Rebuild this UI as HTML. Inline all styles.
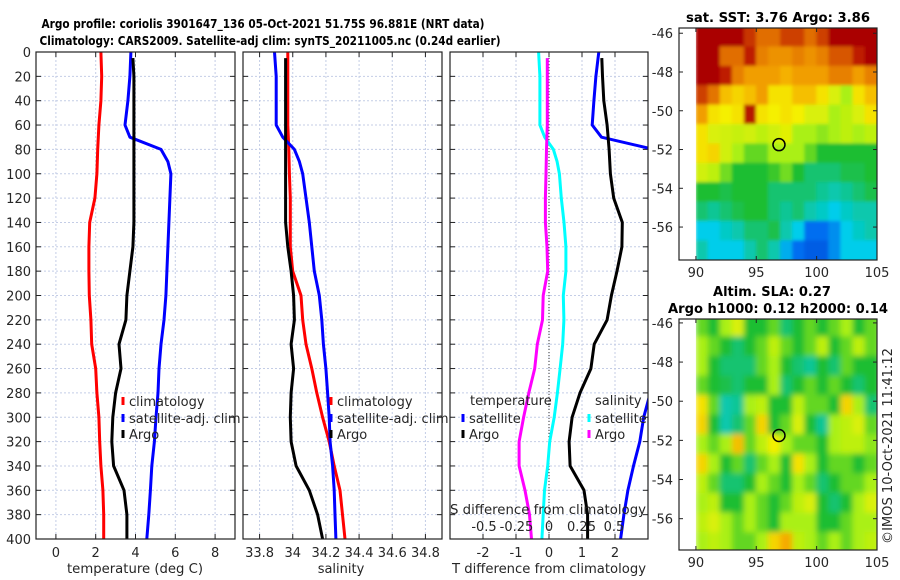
<!DOCTYPE html>
<html><head><meta charset="utf-8"><style>
body{margin:0;background:#fff;}
svg{display:block;font-family:"DejaVu Sans","Liberation Sans",sans-serif;}
</style></head><body>
<svg id="s" width="900" height="580" viewBox="0 0 900 580"></svg>
<script>
// ---- profile data (depth in dbar) ----
const depths=[0,20,40,60,80,100,120,140,160,180,200,220,240,260,280,300,320,340,360,380,400];
const tClim=[2.26,2.3,2.26,2.16,2.1,2.06,1.96,1.7,1.66,1.66,1.68,1.76,1.8,2.0,2.06,2.16,2.2,2.26,2.36,2.4,2.4];
const satDepths=[0,20,40,60,70,80,90,100,120,140,160,180,200,220,240,260,280,300,320,340,360,380,400];
const tSat=[3.77,3.72,3.62,3.47,3.72,5.28,5.63,5.78,5.73,5.68,5.63,5.58,5.53,5.43,5.28,5.18,5.13,5.03,4.95,4.82,4.75,4.67,4.57];
const argoDepths=[5,20,40,60,80,100,120,140,160,180,200,220,240,260,280,300,320,340,360,380,400];
const tArgo=[3.87,3.92,3.92,3.92,3.92,3.92,3.92,3.92,3.87,3.72,3.57,3.52,3.17,3.27,3.0,2.86,2.81,2.9,3.42,3.57,3.57];
const sClim=[33.97,33.97,33.97,33.97,33.976,33.98,33.985,33.985,33.985,34.0,34.05,34.06,34.08,34.115,34.145,34.18,34.22,34.25,34.285,34.3,34.315];
const sSat=[33.89,33.9,33.9,33.9,33.94,34.01,34.04,34.06,34.08,34.1,34.115,34.13,34.16,34.175,34.185,34.2,34.21,34.22,34.225,34.24,34.25,34.255,34.26];
const sArgo=[33.957,33.957,33.957,33.957,33.957,33.957,33.957,33.957,33.97,33.99,34.005,34.01,33.99,34.005,33.99,33.985,33.99,34.02,34.1,34.15,34.18];
const depthTicks=[0,20,40,60,80,100,120,140,160,180,200,220,240,260,280,300,320,340,360,380,400];
const tTicks=[0,2,4,6,8];
const sTicks=[33.8,34,34.2,34.4,34.6,34.8];
const sTickLabels=["33.8","34","34.2","34.4","34.6","34.8"];
const dTTicks=[-2,-1,0,1,2];
const dSTicks=[-0.5,-0.25,0,0.25,0.5];
const dSTickLabels=["-0.5","-0.25","0","0.25","0.5"];
// ---- map data: rows from north (-46) to south, cols 90..105 lon ----
const sstGrid=[
[1,1,1,1,.93,.88,.88,.92,.92,.88,.92,1,1,1,1],
[1,1,.88,.88,.95,.85,.82,.82,.85,.82,.85,.9,.9,.95,1],
[1,1,.95,.85,.8,.8,.8,.77,.8,.8,.8,.85,.85,.8,.85],
[.92,.87,.75,.72,.75,.8,.7,.7,.75,.75,.7,.65,.6,.7,.75],
[.8,.7,.68,.7,.97,.7,.68,.7,.68,.65,.65,.6,.62,.65,.7],
[.7,.65,.64,.63,.64,.62,.64,.66,.6,.6,.58,.6,.62,.6,.62],
[.7,.72,.64,.6,.55,.55,.6,.6,.6,.55,.5,.5,.5,.5,.5],
[.64,.62,.56,.5,.5,.5,.52,.56,.5,.45,.45,.45,.48,.48,.5],
[.5,.5,.48,.5,.5,.5,.45,.45,.45,.45,.42,.4,.42,.45,.48],
[.45,.42,.45,.48,.5,.5,.45,.42,.45,.4,.38,.35,.38,.4,.4],
[.35,.35,.38,.4,.45,.45,.48,.4,.35,.2,.2,.25,.35,.38,.4],
[.4,.35,.35,.35,.4,.45,.4,.3,.2,.15,.15,.25,.35,.35,.35]];
const slaGrid=[
[.55,.5,.6,.65,.5,.5,.55,.45,.5,.55,.5,.55,.6,.5,.55],
[.6,.55,.5,.45,.5,.55,.62,.55,.5,.55,.62,.5,.55,.62,.55],
[.6,.5,.45,.45,.45,.55,.6,.5,.45,.42,.5,.45,.55,.5,.5],
[.55,.5,.48,.45,.5,.5,.6,.45,.5,.55,.5,.55,.5,.45,.5],
[.7,.55,.4,.42,.6,.62,.5,.5,.62,.55,.55,.5,.72,.6,.45],
[.72,.5,.4,.45,.55,.72,.5,.55,.65,.5,.42,.6,.62,.65,.55],
[.6,.55,.6,.75,.55,.62,.68,.6,.55,.55,.5,.6,.62,.62,.58],
[.72,.6,.5,.55,.45,.55,.6,.5,.7,.6,.5,.55,.55,.5,.55],
[.62,.55,.45,.45,.5,.6,.55,.5,.6,.55,.45,.5,.55,.55,.6],
[.6,.62,.5,.5,.6,.55,.5,.55,.62,.65,.5,.45,.5,.6,.65],
[.62,.65,.6,.55,.6,.55,.5,.6,.6,.6,.5,.5,.55,.6,.6],
[.6,.62,.6,.55,.55,.6,.72,.78,.62,.6,.55,.6,.55,.6,.62]];
const lonTicks=[90,95,100,105];
const latTicks=[-46,-48,-50,-52,-54,-56];
const argoLon=96.881, argoLat=-51.75;

const NS="http://www.w3.org/2000/svg";
const svg=document.getElementById('s');
function el(tag,attrs,parent){const e=document.createElementNS(NS,tag);for(const k in attrs)e.setAttribute(k,attrs[k]);(parent||svg).appendChild(e);return e;}
function txt(x,y,s,attrs,parent){const e=el('text',Object.assign({x:x,y:y,'font-size':12,fill:'#262626'},attrs),parent);e.textContent=s;return e;}

const PY0=52,PY1=539;
const yD=d=>PY0+d*(PY1-PY0)/400;

function panel(x0,x1,xmin,xmax,name){
  const xs=v=>x0+(v-xmin)*(x1-x0)/(xmax-xmin);
  const g=el('g',{});  
  return {xs,g,x0,x1};
}
function grid(p,xt,showY){
  depthTicks.forEach(d=>{
    const l=el('line',{x1:p.x0,x2:p.x1,y1:yD(d),y2:yD(d),stroke:'#c4cde6','stroke-width':1,'stroke-dasharray':'2,2'},p.g);
    
    el('line',{x1:p.x0,x2:p.x0+5,y1:yD(d),y2:yD(d),stroke:'#222'},p.g);
    el('line',{x1:p.x1-5,x2:p.x1,y1:yD(d),y2:yD(d),stroke:'#222'},p.g);
    if(showY){const t=txt(p.x0-5,yD(d)+5,String(d),{'text-anchor':'end','font-size':13},p.g);}
  });
  xt.forEach(v=>{
    const x=p.xs(v);
    const l=el('line',{x1:x,x2:x,y1:PY0,y2:PY1,stroke:'#c4cde6','stroke-dasharray':'2,2'},p.g);
    
    el('line',{x1:x,x2:x,y1:PY0,y2:PY0+5,stroke:'#222'},p.g);
    el('line',{x1:x,x2:x,y1:PY1-5,y2:PY1,stroke:'#222'},p.g);
  });
}
function frame(p){const r=el('rect',{x:p.x0,y:PY0,width:p.x1-p.x0,height:PY1-PY0,fill:'none',stroke:'#222','stroke-width':1.2},p.g);}
function line(p,xvals,dvals,color,name,clip){
  const pts=xvals.map((v,i)=>p.xs(v).toFixed(1)+','+yD(dvals[i]).toFixed(1)).join(' ');
  const l=el('polyline',{points:pts,fill:'none',stroke:color,'stroke-width':3,'stroke-linejoin':'round'},p.g);
  if(clip)l.setAttribute('clip-path','url(#'+clip+')');
  
}
function legendEntry(p,x,y,color,label,name){
  const g=el('g',{},p.g);
  el('line',{x1:x,x2:x,y1:y-9,y2:y-1,stroke:color,'stroke-width':3},g);
  txt(x+6,y,label,{'font-size':13},g);
}
function interp(ds,vs,d){for(let i=0;i<ds.length-1;i++){if(d>=ds[i]&&d<=ds[i+1]){const f=(d-ds[i])/(ds[i+1]-ds[i]);return vs[i]+f*(vs[i+1]-vs[i]);}}return d<ds[0]?vs[0]:vs[vs.length-1];}

// Panel 1 temperature
const p1=panel(36,235,-1,9,'temperature-panel');
grid(p1,tTicks,true);
line(p1,tClim,depths,'#ff0000','temp-climatology-line');
line(p1,tSat,satDepths,'#0000ff','temp-satellite-line');
line(p1,tArgo,argoDepths,'#000000','temp-argo-line');
frame(p1);
tTicks.forEach(v=>{const t=txt(p1.xs(v),557,String(v),{'text-anchor':'middle','font-size':13},p1.g);});
{const t=txt(135,573,'temperature (deg C)',{'text-anchor':'middle','font-size':13,textLength:136,lengthAdjust:'spacingAndGlyphs'});}
legendEntry(p1,123,406,'#ff0000','climatology','legend-climatology');
legendEntry(p1,123,423,'#0000ff','satellite-adj. clim','legend-satellite');
legendEntry(p1,123,439,'#000000','Argo','legend-argo');

// Panel 2 salinity
const p2=panel(243,442,33.7,34.9,'salinity-panel');
grid(p2,sTicks,false);
line(p2,sClim,depths,'#ff0000','sal-climatology-line');
line(p2,sSat,satDepths,'#0000ff','sal-satellite-line');
line(p2,sArgo,argoDepths,'#000000','sal-argo-line');
frame(p2);
sTicks.forEach((v,i)=>{const t=txt(p2.xs(v),557,sTickLabels[i],{'text-anchor':'middle','font-size':13},p2.g);});
{const t=txt(341,573,'salinity',{'text-anchor':'middle','font-size':13});}
legendEntry(p2,331,406,'#ff0000','climatology','legend-climatology-2');
legendEntry(p2,331,423,'#0000ff','satellite-adj. clim','legend-satellite-2');
legendEntry(p2,331,439,'#000000','Argo','legend-argo-2');

// Panel 3 differences
const defs=el('defs',{});
const cp=el('clipPath',{id:'c3'},defs);el('rect',{x:450,y:PY0,width:198,height:PY1-PY0},cp);
const p3=panel(450,648,-3,3,'difference-panel');
const SF=33/130; // S units per T unit on shared axis
grid(p3,dTTicks,false);
el('line',{x1:p3.xs(0),x2:p3.xs(0),y1:PY0,y2:PY1,stroke:'#333','stroke-dasharray':'1,2'},p3.g);
const dTSat=satDepths.map((d,i)=>tSat[i]-interp(depths,tClim,d));
const dTArgo=argoDepths.map((d,i)=>tArgo[i]-interp(depths,tClim,d));
const dSSat=satDepths.map((d,i)=>(sSat[i]-interp(depths,sClim,d))/SF);
const dSArgo=argoDepths.map((d,i)=>(sArgo[i]-interp(depths,sClim,d))/SF);
line(p3,dSSat,satDepths,'#00ffff','sdiff-satellite-line','c3');
line(p3,dSArgo,argoDepths,'#ff00ff','sdiff-argo-line','c3');
line(p3,dTSat,satDepths,'#0000ff','tdiff-satellite-line','c3');
line(p3,dTArgo,argoDepths,'#000000','tdiff-argo-line','c3');
frame(p3);
dTTicks.forEach(v=>{const t=txt(p3.xs(v),557,String(v),{'text-anchor':'middle','font-size':13},p3.g);});
dSTicks.forEach((v,i)=>{const t=txt(p3.xs(v/SF),531,dSTickLabels[i],{'text-anchor':'middle','font-size':13},p3.g);});
{const t=txt(450,514,'S difference from climatology',{'font-size':13,textLength:196,lengthAdjust:'spacingAndGlyphs'});}
{const t=txt(452,573,'T difference from climatology',{'font-size':13,textLength:194,lengthAdjust:'spacingAndGlyphs'});}
{const t=txt(470,405,'temperature',{'font-size':13});}
{const t=txt(595,405,'salinity',{'font-size':13});}
legendEntry(p3,463,423,'#0000ff','satellite','legend-t-satellite');
legendEntry(p3,463,439,'#000000','Argo','legend-t-argo');
legendEntry(p3,589,423,'#00ffff','satellite','legend-s-satellite');
legendEntry(p3,589,439,'#ff00ff','Argo','legend-s-argo');

// Titles
{const t=txt(263,28,'Argo profile: coriolis 3901647_136 05-Oct-2021 51.75S 96.881E (NRT data)',{'font-size':12,'font-weight':'bold','text-anchor':'middle',fill:'#000',textLength:443,lengthAdjust:'spacingAndGlyphs'});}
{const t=txt(270,45,'Climatology: CARS2009. Satellite-adj clim: synTS_20211005.nc (0.24d earlier)',{'font-size':12,'font-weight':'bold','text-anchor':'middle',fill:'#000',textLength:461,lengthAdjust:'spacingAndGlyphs'});}

// Colormap
const stops=[[0,[0,40,190]],[0.2,[0,110,240]],[0.35,[0,205,235]],[0.5,[30,190,50]],[0.6,[170,240,20]],[0.68,[245,240,0]],[0.78,[245,170,0]],[0.88,[225,110,0]],[0.95,[190,30,0]],[1,[170,0,0]]];
function cmap(v){for(let i=0;i<stops.length-1;i++){const a=stops[i],b=stops[i+1];if(v<=b[0]){const f=Math.max(0,(v-a[0])/(b[0]-a[0]));const c=a[1].map((x,k)=>Math.round(x+f*(b[1][k]-x)));return 'rgb('+c.join(',')+')';}}return 'rgb(170,0,0)';}

function map(fy0,fy1,latTop,latBot,gridData,name,filt,cid){
  const fx0=679,fx1=877;
  const lonL=88.6,lonR=105;
  const xs=lon=>fx0+(lon-lonL)*(fx1-fx0)/(lonR-lonL);
  const ys=lat=>fy0+(latTop-lat)*(fy1-fy0)/(latTop-latBot);
  const g=el('g',{});
  const c=el('clipPath',{id:cid},defs);el('rect',{x:xs(90),y:fy0,width:fx1-xs(90),height:fy1-fy0},c);
  const hg=el('g',{'clip-path':'url(#'+cid+')'},g);
  const inner=el('g',{filter:'url(#'+filt+')'},hg);
  gridData.forEach((row,r)=>row.forEach((v,cIdx)=>{
    const lat0=-46+0.3-r,lat1=lat0-1;
    const x=xs(90+cIdx),y=ys(r===0?latTop+1:lat0);
    const h=ys(r===gridData.length-1?latBot-1:lat1)-y;
    const cell=el('rect',{x:x-0.3,y:y-0.3,width:xs(91+cIdx)-x+0.6+(cIdx===14?3:0),height:h+0.6,fill:cmap(v)},inner);
    
  }));
  el('rect',{x:fx0,y:fy0,width:fx1-fx0,height:fy1-fy0,fill:'none',stroke:'#222','stroke-width':1.2},g);
  lonTicks.forEach(l=>{el('line',{x1:xs(l),x2:xs(l),y1:fy1,y2:fy1-4,stroke:'#222'},g);el('line',{x1:xs(l),x2:xs(l),y1:fy0,y2:fy0+4,stroke:'#222'},g);
    const t=txt(xs(l),fy1+17,String(l),{'text-anchor':'middle','font-size':13},g);});
  latTicks.forEach(l=>{el('line',{x1:fx0,x2:fx0+4,y1:ys(l),y2:ys(l),stroke:'#222'},g);el('line',{x1:fx1,x2:fx1-4,y1:ys(l),y2:ys(l),stroke:'#222'},g);
    const t=txt(fx0-6,ys(l)+5,String(l),{'text-anchor':'end','font-size':13},g);});
  const m=el('circle',{cx:xs(argoLon),cy:ys(argoLat),r:6,fill:'none',stroke:'#000','stroke-width':1.5},g);
  
}
const f=el('filter',{id:'bl',x:'-5%',y:'-5%',width:'110%',height:'110%'},defs);el('feGaussianBlur',{stdDeviation:3},f);
const f2=el('filter',{id:'bl2',x:'-5%',y:'-5%',width:'110%',height:'110%'},defs);el('feGaussianBlur',{stdDeviation:1.5},f2);
map(28,260,-45.73,-57.7,sstGrid,'sst-map','bl2','cm1');
map(319,550,-45.8,-57.6,slaGrid,'sla-map','bl','cm2');
{const t=txt(778,22,'sat. SST: 3.76 Argo: 3.86',{'font-size':13,'font-weight':'bold','text-anchor':'middle',fill:'#000',textLength:184,lengthAdjust:'spacingAndGlyphs'});}
{const t=txt(772,296,'Altim. SLA: 0.27',{'font-size':13,'font-weight':'bold','text-anchor':'middle',fill:'#000'});}
{const t=txt(778,313,'Argo h1000: 0.12 h2000: 0.14',{'font-size':13,'font-weight':'bold','text-anchor':'middle',fill:'#000',textLength:220,lengthAdjust:'spacingAndGlyphs'});}
{const t=txt(0,0,'©IMOS 10-Oct-2021 11:41:12',{'font-size':13,transform:'translate(892,544) rotate(-90)',textLength:196,lengthAdjust:'spacingAndGlyphs'});}
</script>
</body></html>
